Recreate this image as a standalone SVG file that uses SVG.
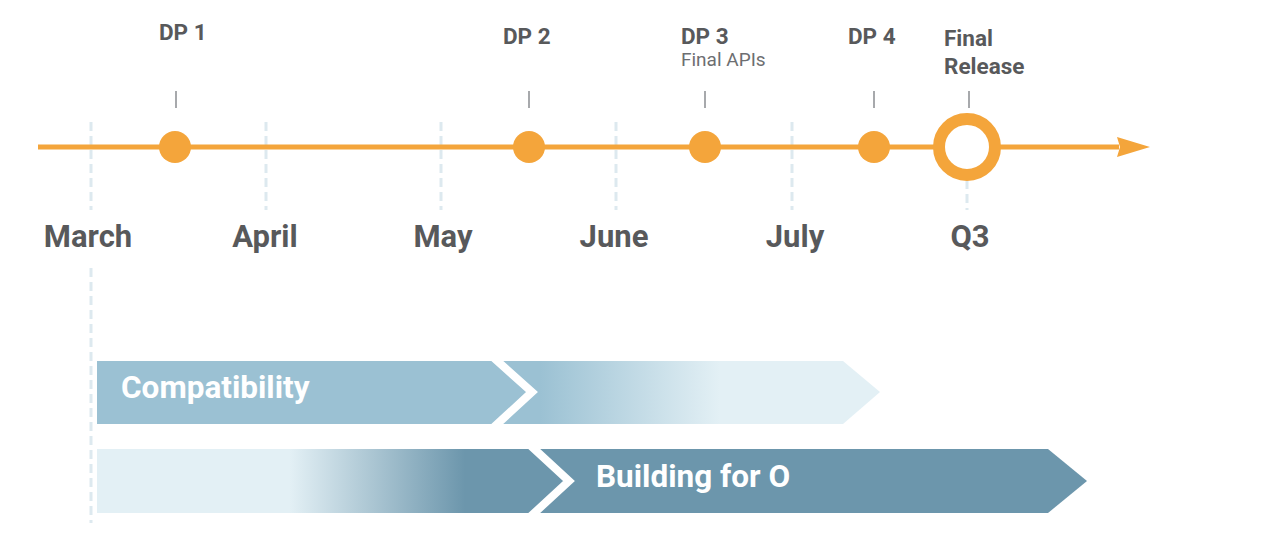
<svg xmlns="http://www.w3.org/2000/svg" width="1286" height="552" viewBox="0 0 1286 552">
<style>
.month{font-family:Roboto,"Liberation Sans",sans-serif;font-weight:700;font-size:31px;fill:#58595b;text-anchor:middle}
.dp{font-family:Roboto,"Liberation Sans",sans-serif;font-weight:700;font-size:22.5px;fill:#58595b}
.sub{font-family:Roboto,"Liberation Sans",sans-serif;font-weight:400;font-size:19px;fill:#6d6e71}
.bar{font-family:Roboto,"Liberation Sans",sans-serif;font-weight:700;font-size:31.5px;fill:#ffffff}
.grid{stroke:#dde9ef;stroke-width:3;stroke-dasharray:9 5;fill:none}
.tick{stroke:#a7a9ac;stroke-width:2}
.dot{fill:#f4a53b}
.chev{fill:none;stroke:#ffffff;stroke-width:8;stroke-linejoin:miter}
</style>
<defs>
<linearGradient id="gTop" gradientUnits="userSpaceOnUse" x1="540" y1="0" x2="720" y2="0">
<stop offset="0" stop-color="#9bc1d3"/>
<stop offset="1" stop-color="#e3f0f5"/>
</linearGradient>
<linearGradient id="gBot" gradientUnits="userSpaceOnUse" x1="290" y1="0" x2="465" y2="0">
<stop offset="0" stop-color="#e3f0f5"/>
<stop offset="1" stop-color="#6c96ac"/>
</linearGradient>
<marker id="arr" viewBox="0 0 33 20" refX="2" refY="10" markerWidth="33" markerHeight="20" markerUnits="userSpaceOnUse" orient="auto">
<path d="M0,0 L33,10 L0,20 L3,10 Z" fill="#f4a53b"/>
</marker>
</defs>
<rect width="1286" height="552" fill="#ffffff"/>
<g id="gridlines">
<line class="grid" x1="91" y1="122" x2="91" y2="210"/>
<line class="grid" x1="91" y1="268" x2="91" y2="523"/>
<line class="grid" x1="266" y1="122" x2="266" y2="210"/>
<line class="grid" x1="441" y1="122" x2="441" y2="210"/>
<line class="grid" x1="616" y1="122" x2="616" y2="210"/>
<line class="grid" x1="792" y1="122" x2="792" y2="210"/>
<line class="grid" x1="967" y1="180" x2="967" y2="210"/>
</g>
<g id="connectors">
<line x1="38" y1="147" x2="1119" y2="147" stroke="#f4a53b" stroke-width="5" marker-end="url(#arr)"/>
<line class="tick" x1="176" y1="91" x2="176" y2="108"/>
<line class="tick" x1="529" y1="91" x2="529" y2="108"/>
<line class="tick" x1="705" y1="91" x2="705" y2="108"/>
<line class="tick" x1="874" y1="91" x2="874" y2="108"/>
<line class="tick" x1="969" y1="91" x2="969" y2="108"/>
</g>
<g id="months">
<text class="month" x="88" y="247">March</text>
<text class="month" x="265" y="247">April</text>
<text class="month" x="443" y="247">May</text>
<text class="month" x="614" y="247">June</text>
<text class="month" x="795" y="247">July</text>
<text class="month" x="970" y="247">Q3</text>
</g>
<g id="dp1">
<circle class="dot" cx="175" cy="147" r="16"/>
<text class="dp" x="159" y="40">DP 1</text>
</g>
<g id="dp2">
<circle class="dot" cx="529" cy="147" r="16"/>
<text class="dp" x="503" y="44">DP 2</text>
</g>
<g id="dp3">
<circle class="dot" cx="705" cy="147" r="16"/>
<text class="dp" x="681" y="44">DP 3</text>
<text class="sub" x="681" y="66">Final APIs</text>
</g>
<g id="dp4">
<circle class="dot" cx="874" cy="147" r="16"/>
<text class="dp" x="848" y="44">DP 4</text>
</g>
<g id="final-release">
<circle cx="967" cy="147" r="28" fill="#ffffff" stroke="#f4a53b" stroke-width="12"/>
<text class="dp" x="944" y="46">Final</text>
<text class="dp" x="944" y="74">Release</text>
</g>
<g id="compatibility">
<polygon points="97,361 843,361 880,392 843,424 97,424" fill="url(#gTop)"/>
<polyline class="chev" points="494,358 532,392 494,427"/>
<text class="bar" x="121" y="398">Compatibility</text>
</g>
<g id="building-for-o">
<polygon points="97,449 1048,449 1087,481 1048,513 97,513" fill="url(#gBot)"/>
<polyline class="chev" points="531,446 569,481 531,516"/>
<text class="bar" x="596" y="487">Building for O</text>
</g>
</svg>
